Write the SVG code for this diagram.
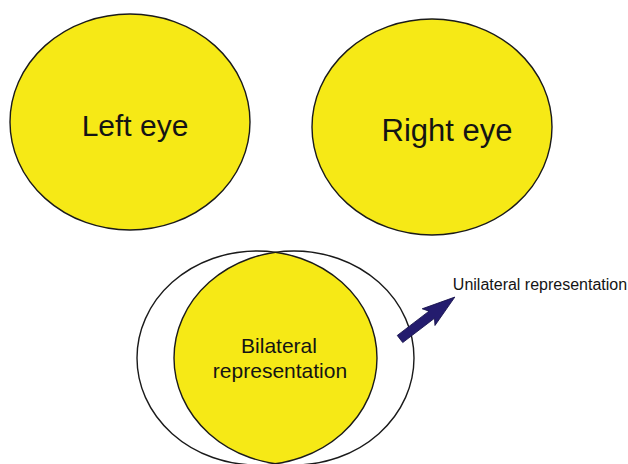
<svg xmlns="http://www.w3.org/2000/svg" width="628" height="464" viewBox="0 0 628 464">
<style>
.eye{fill:#f6e916;stroke:#1a1a1a;stroke-width:1.4}
.out{fill:none;stroke:#1a1a1a;stroke-width:1.4}
.lbl{font-family:"Liberation Sans",Arial,sans-serif;fill:#141414;text-anchor:middle}
</style>
<defs>
<clipPath id="clipA"><ellipse cx="257" cy="358" rx="120" ry="107"/></clipPath>
</defs>
<rect width="628" height="464" fill="#fff"/>
<g id="left-eye">
<ellipse class="eye" cx="130" cy="122" rx="120" ry="108"/>
<text class="lbl" x="135" y="136" font-size="30">Left eye</text>
</g>
<g id="right-eye">
<ellipse class="eye" cx="432" cy="127" rx="120" ry="108"/>
<text class="lbl" x="447" y="141" font-size="31">Right eye</text>
</g>
<g id="bilateral">
<ellipse cx="257" cy="358" rx="120" ry="107" fill="#fff"/>
<ellipse cx="294" cy="358" rx="120" ry="107" fill="#fff"/>
<ellipse cx="294" cy="358" rx="120" ry="107" fill="#f6e916" clip-path="url(#clipA)"/>
<ellipse class="out" cx="257" cy="358" rx="120" ry="107"/>
<ellipse class="out" cx="294" cy="358" rx="120" ry="107"/>
<text class="lbl" x="279" y="353" font-size="21">Bilateral</text>
<text class="lbl" x="280" y="378" font-size="21">representation</text>
</g>
<g id="connectors">
<polygon transform="translate(400,339) rotate(-37.4)" points="0,-4.5 40,-4.5 36,-10.5 69,0 36,10.5 40,4.5 0,4.5" fill="#241c6e" stroke="#15104a" stroke-width="0.8"/>
</g>
<g id="unilateral">
<text class="lbl" x="540" y="290" font-size="16">Unilateral representation</text>
</g>
</svg>
